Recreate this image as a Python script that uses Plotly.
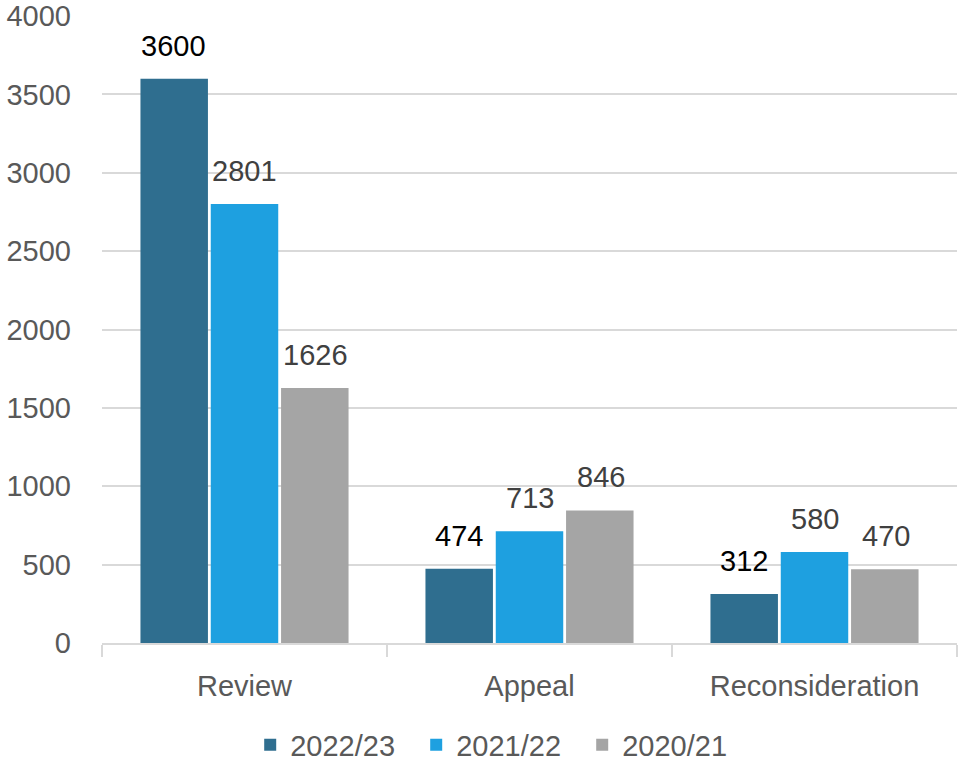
import plotly.graph_objects as go

categories = ["Review", "Appeal", "Reconsideration"]
series_names = ["2022/23", "2021/22", "2020/21"]
values_2022_23 = [3600, 474, 312]
values_2021_22 = [2801, 713, 580]
values_2020_21 = [1626, 846, 470]
y_ticks = [0, 500, 1000, 1500, 2000, 2500, 3000, 3500, 4000]

series_values = [values_2022_23, values_2021_22, values_2020_21]
colors = ["#2F6E8F", "#1EA0E0", "#A5A5A5"]
label_colors = ["#000000", "#404040", "#404040"]
FONT = "Liberation Sans"

fig = go.Figure()
for name, vals, col in zip(series_names, series_values, colors):
    fig.add_trace(go.Bar(
        x=categories, y=vals, name=name,
        marker=dict(color=col, line=dict(width=0)),
        hoverinfo="x+y+name",
    ))

# data labels as annotations placed on the data scale
bar_step = 71
for i, (vals, lc) in enumerate(zip(series_values, label_colors)):
    for c, v in zip(categories, vals):
        fig.add_annotation(
            x=c, y=v, xref="x", yref="y", text=str(v), showarrow=False,
            xshift=(i - 1) * bar_step, yshift=33, yanchor="middle",
            font=dict(family=FONT, size=29, color=lc),
        )

fig.update_layout(
    width=960, height=763,
    margin=dict(l=102, r=3, t=16, b=120, autoexpand=False),
    barmode="group", bargap=0.26, bargroupgap=0.04,
    plot_bgcolor="white", paper_bgcolor="white",
    font=dict(family=FONT, size=29, color="#595959"),
    showlegend=True,
    legend=dict(orientation="h", xref="container", yref="container",
                x=0.52, xanchor="center", y=0.0236, yanchor="middle",
                entrywidth=121, entrywidthmode="pixels",
                font=dict(family=FONT, size=29, color="#595959"),
                traceorder="normal", itemclick=False),
)
fig.update_xaxes(
    automargin=False,
    showline=True, linecolor="#D9D9D9", linewidth=2,
    ticks="outside", tickson="boundaries", ticklen=12, tickcolor="#D9D9D9", tickwidth=2,
    showgrid=False, tickfont=dict(family=FONT, size=29, color="#595959"),
    ticklabelstandoff=16,
)
fig.update_yaxes(
    automargin=False, ticklabeloverflow="allow",
    range=[0, 4000], tickvals=y_ticks, showgrid=True, gridcolor="#D9D9D9", gridwidth=2,
    zeroline=False, showline=False, ticks="", ticklabelstandoff=30,
    tickfont=dict(family=FONT, size=29, color="#595959"),
)

fig.write_html(
    "out.html",
    config={"displayModeBar": False},
    post_script="document.body.style.margin='0';document.body.style.padding='0';",
)
